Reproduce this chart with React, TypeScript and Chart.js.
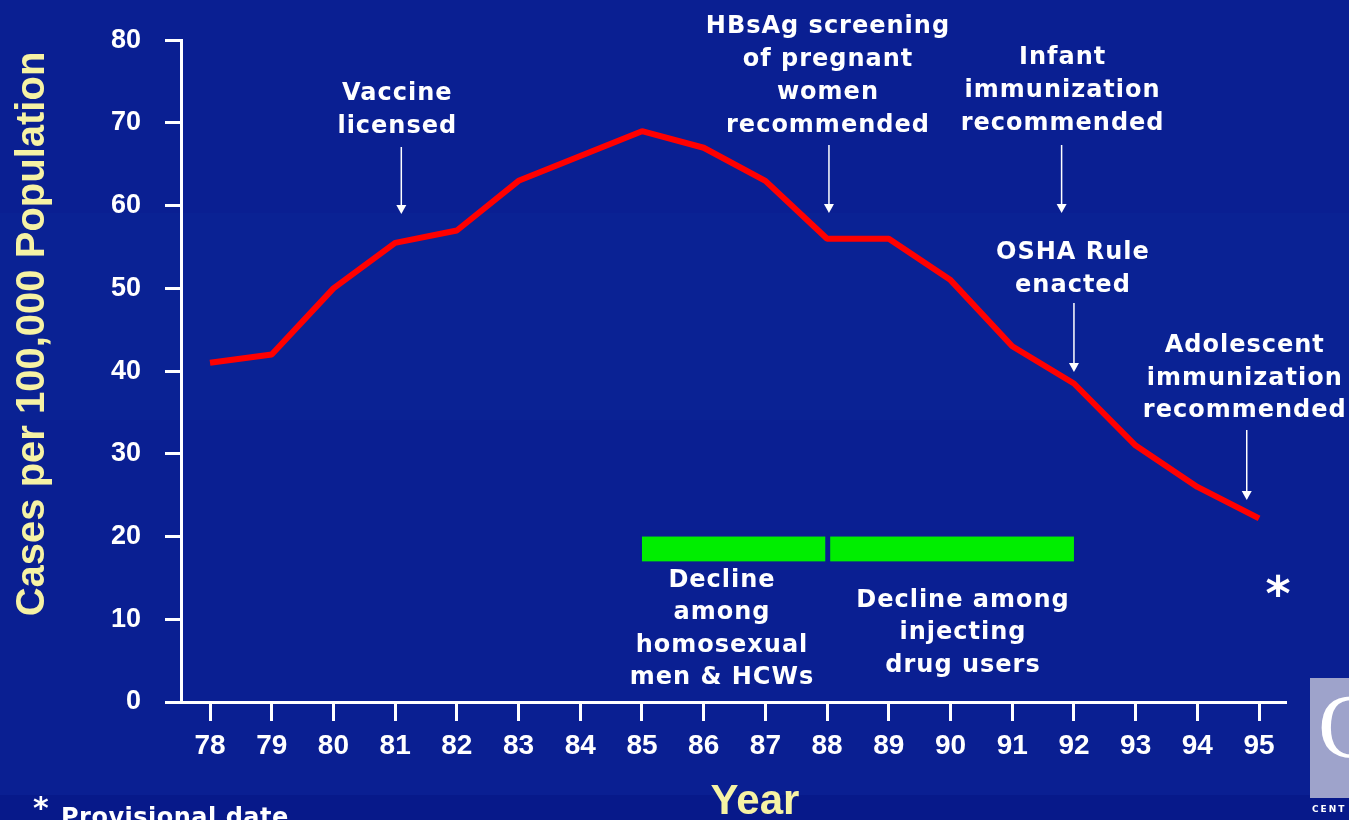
import React, { useEffect, useRef } from "react";
import { Chart, registerables } from "chart.js";

Chart.register(...registerables);

// ---- data ----
const years = [78, 79, 80, 81, 82, 83, 84, 85, 86, 87, 88, 89, 90, 91, 92, 93, 94, 95];
const rates = [41, 42, 50, 55.5, 57, 63, 66, 69, 67, 63, 56, 56, 51, 43, 38.5, 31, 26, 22.2];
const yTicks = [0, 10, 20, 30, 40, 50, 60, 70, 80];

const declineStart = [85, 88.05];
const declineEnd = [87.97, 92];
const declineTop = 20;
const declineBottom = 17;
const declineLabels = [
  ["Decline", "among", "homosexual", "men & HCWs"],
  ["Decline among", "injecting", "drug users"],
];

const eventYears = [81.1, 88.03, 91.8, 92, 94.8];
const eventLabels = [
  ["Vaccine", "licensed"],
  ["HBsAg screening", "of pregnant", "women", "recommended"],
  ["Infant", "immunization", "recommended"],
  ["OSHA Rule", "enacted"],
  ["Adolescent", "immunization", "recommended"],
];

const yTitle = "Cases per 100,000 Population";
const xTitle = "Year";
const footnote = "Provisional date";

// ---- layout (pixels) ----
const eventLayout = [
  { dx: -4, textY: 93.5, arrowTop: 147, arrowTip: 214 },
  { dx: -1, textY: 27, arrowTop: 145, arrowTip: 213 },
  { dx: 1, textY: 58, arrowTop: 145, arrowTip: 213 },
  { dx: -1, textY: 253, arrowTop: 303, arrowTip: 372 },
  { dx: -2, textY: 345.5, arrowTop: 430, arrowTip: 500 },
];
const declineLayout = [
  { cx: 722, y: 580.5 },
  { cx: 963, y: 600.5 },
];

const BG = "#0a1f92";
const BAND = "#0a2294";
const STRIP = "#07198a";
const YELLOW = "#f6f2a4";
const ANN_FONT = "bold 24px 'DejaVu Sans'";

const bgPlugin = {
  id: "bg",
  beforeDraw(chart: any) {
    const ctx = chart.ctx;
    const w = chart.width;
    const h = chart.height;
    ctx.save();
    ctx.fillStyle = BG;
    ctx.fillRect(0, 0, w, h);
    ctx.fillStyle = BAND;
    ctx.fillRect(0, 213, w, 207);
    ctx.fillStyle = STRIP;
    ctx.fillRect(0, 795, w, h - 795);
    // logo box
    ctx.fillStyle = "#9ea3cb";
    ctx.fillRect(1310, 678, 40, 120);
    ctx.fillStyle = "#ffffff";
    ctx.font = "90px 'Liberation Serif'";
    ctx.textBaseline = "alphabetic";
    ctx.textAlign = "left";
    ctx.fillText("C", 1318, 757);
    ctx.font = "bold 9px 'DejaVu Sans'";
    (ctx as any).letterSpacing = "2px";
    ctx.fillText("CENT", 1312, 812);
    (ctx as any).letterSpacing = "0px";
    ctx.restore();
  },
};

function drawArrow(ctx: CanvasRenderingContext2D, x: number, y1: number, y2: number) {
  ctx.strokeStyle = "#ffffff";
  ctx.lineWidth = 1.5;
  ctx.beginPath();
  ctx.moveTo(x, y1);
  ctx.lineTo(x, y2 - 7);
  ctx.stroke();
  ctx.fillStyle = "#ffffff";
  ctx.beginPath();
  ctx.moveTo(x - 5, y2 - 9);
  ctx.lineTo(x + 5, y2 - 9);
  ctx.lineTo(x, y2);
  ctx.closePath();
  ctx.fill();
}

const overlayPlugin = {
  id: "overlay",
  afterDraw(chart: any) {
    const ctx: CanvasRenderingContext2D = chart.ctx;
    const xs = chart.scales.x;
    const ys = chart.scales.y;
    ctx.save();

    // green decline bars
    ctx.fillStyle = "#00ee00";
    for (let i = 0; i < declineStart.length; i++) {
      const x1 = xs.getPixelForValue(declineStart[i]);
      const x2 = xs.getPixelForValue(declineEnd[i]);
      const y1 = ys.getPixelForValue(declineTop);
      const y2 = ys.getPixelForValue(declineBottom);
      ctx.fillRect(x1, y1, x2 - x1, y2 - y1);
    }

    ctx.fillStyle = "#ffffff";
    ctx.font = ANN_FONT;
    (ctx as any).letterSpacing = "1px";
    ctx.textAlign = "center";
    ctx.textBaseline = "middle";

    declineLabels.forEach((lines, i) => {
      const L = declineLayout[i];
      lines.forEach((t, j) => ctx.fillText(t, L.cx, L.y + j * 32.5));
    });

    eventLabels.forEach((lines, i) => {
      const L = eventLayout[i];
      const x = xs.getPixelForValue(eventYears[i]);
      ctx.fillStyle = "#ffffff";
      ctx.font = ANN_FONT;
      lines.forEach((t, j) => ctx.fillText(t, x + L.dx, L.textY + j * 32.8));
      drawArrow(ctx, x, L.arrowTop, L.arrowTip);
    });
    (ctx as any).letterSpacing = "0px";

    // provisional asterisk
    ctx.fillStyle = "#ffffff";
    ctx.textAlign = "center";
    ctx.textBaseline = "alphabetic";
    ctx.font = "bold 48px 'DejaVu Sans'";
    ctx.fillText("*", 1278, 610);

    // axis titles
    ctx.fillStyle = YELLOW;
    ctx.font = "bold 40px 'Liberation Sans'";
    ctx.save();
    ctx.translate(33, 334);
    ctx.rotate(-Math.PI / 2);
    ctx.textAlign = "center";
    ctx.textBaseline = "middle";
    ctx.fillText(yTitle, 0, 0);
    ctx.restore();

    ctx.font = "bold 42px 'Liberation Sans'";
    ctx.textAlign = "center";
    ctx.textBaseline = "alphabetic";
    ctx.fillText(xTitle, 755, 814);

    // footnote
    ctx.fillStyle = "#ffffff";
    ctx.textAlign = "left";
    ctx.font = "bold 30px 'DejaVu Sans'";
    ctx.fillText("*", 33, 818);
    ctx.font = "bold 24px 'DejaVu Sans'";
    (ctx as any).letterSpacing = "0.5px";
    ctx.fillText(footnote, 61, 825);
    (ctx as any).letterSpacing = "0px";

    ctx.restore();
  },
};

export default function App() {
  const ref = useRef<HTMLCanvasElement | null>(null);

  useEffect(() => {
    if (!ref.current) return;
    const tickFontY = { family: "'Liberation Sans', Arial", size: 27, weight: "bold" as const };
    const tickFontX = { family: "'Liberation Sans', Arial", size: 28, weight: "bold" as const };
    const chart = new Chart(ref.current, {
      type: "line",
      data: {
        datasets: [
          {
            data: years.map((x, i) => ({ x, y: rates[i] })),
            borderColor: "#ff0000",
            backgroundColor: "#ff0000",
            borderWidth: 6,
            pointRadius: 0,
            tension: 0,
            fill: false,
            borderJoinStyle: "bevel",
          },
        ],
      },
      options: {
        responsive: false,
        animation: false,
        events: [],
        layout: { padding: { top: 38, right: 64, left: 0, bottom: 0 } },
        plugins: { legend: { display: false }, tooltip: { enabled: false } },
        scales: {
          x: {
            type: "linear",
            min: 77.53,
            max: 95.42,
            afterBuildTicks: (s: any) => {
              s.ticks = years.map((v) => ({ value: v }));
            },
            afterFit: (s: any) => {
              s.height = 118;
            },
            grid: { drawOnChartArea: false, color: "#ffffff", lineWidth: 3, tickLength: 19 },
            border: { color: "#ffffff", width: 3 },
            ticks: {
              color: "#ffffff",
              font: tickFontX,
              padding: 8,
              autoSkip: false,
              maxRotation: 0,
              callback: (v: any) => String(v),
            },
          },
          y: {
            min: 0,
            max: 80,
            afterBuildTicks: (s: any) => {
              s.ticks = yTicks.map((v) => ({ value: v }));
            },
            afterFit: (s: any) => {
              s.width = 181;
            },
            grid: { drawOnChartArea: false, color: "#ffffff", lineWidth: 3, tickLength: 16 },
            border: { color: "#ffffff", width: 3 },
            ticks: {
              color: "#ffffff",
              font: tickFontY,
              padding: 24,
              callback: (v: any) => String(v),
            },
          },
        },
      },
      plugins: [bgPlugin, overlayPlugin],
    } as any);
    return () => chart.destroy();
  }, []);

  return (
    <div style={{ position: "fixed", left: 0, top: 0, width: 1349, height: 820, overflow: "hidden" }}>
      <canvas ref={ref} width={1349} height={820} style={{ display: "block" }} />
    </div>
  );
}
